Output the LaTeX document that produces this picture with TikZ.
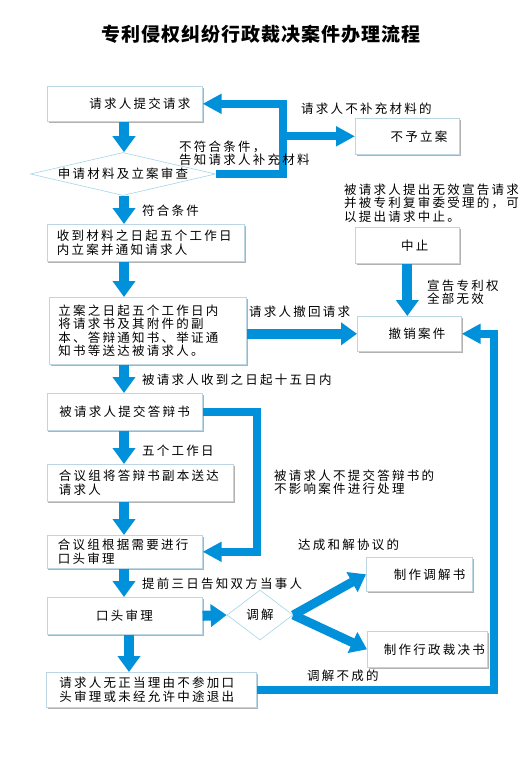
\documentclass[tikz,border=0pt]{standalone}
\usepackage{fontspec}
\setmainfont{Noto Sans CJK SC}[LetterSpace=18]
\newfontfamily\biaotiziti{Noto Sans CJK SC}[LetterSpace=5]
\usetikzlibrary{arrows.meta,shapes.geometric,shadows}
\definecolor{lanse}{RGB}{0,145,218}
\definecolor{kuangse}{RGB}{188,214,228}
\definecolor{lingse}{RGB}{165,213,235}

\begin{document}
\begin{tikzpicture}[
    x=1pt, y=-1pt,
    font=\fontsize{12.5}{13.3}\selectfont,
    kuang/.style={draw=kuangse, line width=0.6pt, fill=white, anchor=north west,
      inner ysep=0pt, align=left,
      drop shadow={shadow xshift=1.2pt, shadow yshift=-1.6pt, fill=black, opacity=0.3}},
    ling/.style={draw=lingse, line width=0.6pt, fill=white, diamond, inner sep=0pt},
    zhu/.style={anchor=west, inner sep=0pt, align=left},
    liu/.style={draw=lanse, line width=10pt, -{Triangle[width=22pt,length=16pt]}},
    huan/.style={draw=lanse, line width=8pt, -{Triangle[width=19pt,length=19pt]}},
  ]
  \path[use as bounding box, fill=white] (0,0) rectangle (532,764);
  \node[font={\biaotiziti\bfseries\fontsize{19}{19}\selectfont}] (biaoti) at (261,34) {专利侵权纠纷行政裁决案件办理流程};

  % --- 左列 ---
  \node[kuang, align=right, text width=131pt, inner xsep=12pt, minimum height=35pt] (qingqiu) at (47,86) {请求人提交请求};
  \node[ling, aspect=4.3, minimum width=185pt, minimum height=43pt] (shencha) at (123,174) {申请材料及立案审查};
  \node[kuang, text width=177.5pt, inner xsep=10pt, minimum height=37pt] (shoudao) at (46.5,224) {收到材料之日起五个工作日\\内立案并通知请求人};
  \node[kuang, text width=179pt, inner xsep=9pt, minimum height=67pt] (lian) at (49,297) {立案之日起五个工作日内\\将请求书及其附件的副\\本、答辩通知书、举证通\\知书等送达被请求人。};
  \node[kuang, align=center, text width=135.5pt, inner xsep=10pt, minimum height=37pt] (dabian) at (46.5,393) {被请求人提交答辩书};
  \node[kuang, text width=162.5pt, inner xsep=12pt, minimum height=37pt] (songda) at (46.5,464) {合议组将答辩书副本送达\\请求人};
  \node[kuang, text width=133.5pt, inner xsep=11pt, minimum height=33pt] (genju) at (46.5,535) {合议组根据需要进行\\口头审理};
  \node[kuang, align=center, text width=135.5pt, inner xsep=10pt, minimum height=37pt] (kaoting) at (46.5,597) {口头审理};
  \node[ling, aspect=1.3, minimum width=66pt, minimum height=50pt] (tiaojiezhen) at (260,615) {调解};
  \node[kuang, text width=184pt, inner xsep=13pt, minimum height=35pt] (jiuzheng) at (46,672) {请求人无正当理由不参加口\\头审理或未经允许中途退出};
  % --- 右列 ---
  \node[kuang, align=right, text width=80pt, inner xsep=12pt, minimum height=36pt] (buyu) at (355,118) {不予立案};
  \node[kuang, align=right, text width=42pt, inner xsep=31pt, minimum height=36pt] (zhongzhi) at (355,227) {中止};
  \node[kuang, align=right, text width=72pt, inner xsep=16pt, minimum height=35pt] (chexiao) at (357,316) {撤销案件};
  \node[kuang, align=right, text width=92pt, inner xsep=7pt, minimum height=34pt] (tiaojie) at (366,557) {制作调解书};
  \node[kuang, align=right, text width=115pt, inner xsep=2.5pt, minimum height=36pt] (caijue) at (367,631) {制作行政裁决书};

  % 主流程箭头
  \coordinate (zhou) at (124,0);
  \coordinate (zhou2) at (129,0);
  \draw[liu] (zhou |- qingqiu.south) -- (zhou |- shencha.north);
  \draw[liu] (zhou |- shencha.south) -- (zhou |- shoudao.north);
  \draw[liu] (zhou |- shoudao.south) -- (zhou |- lian.north);
  \draw[liu] (zhou |- lian.south) -- (zhou |- dabian.north);
  \draw[liu] (zhou |- dabian.south) -- (zhou |- songda.north);
  \draw[liu] (zhou |- songda.south) -- (zhou |- genju.north);
  \draw[liu] (zhou |- genju.south) -- (zhou |- kaoting.north);
  \draw[liu] (zhou2 |- kaoting.south) -- (zhou2 |- jiuzheng.north);
  \draw[liu] (kaoting.east) -- (tiaojiezhen.west);
  \draw[liu, line width=9pt] (tiaojiezhen.east) -- (tiaojie.west);
  \draw[liu, line width=9pt] (tiaojiezhen.east) -- (caijue.west);
  \draw[liu] (zhongzhi.south) -- (zhongzhi.south |- chexiao.north);
  \draw[liu] (lian.east |- chexiao.west) -- (chexiao.west);

  % 回转箭头
  \coordinate (guai1) at (283,0);
  \coordinate (guai2) at (257,0);
  \coordinate (guai3) at (494,0);
  \draw[huan] (shencha.east) -| (guai1 |- qingqiu.east) -- (qingqiu.east);
  \draw[huan] (guai1 |- buyu.west) -- (buyu.west);
  \draw[huan] (dabian.east) -| (guai2 |- genju.east) -- (genju.east);
  \draw[huan] (jiuzheng.east) -| (guai3 |- chexiao.east) -- (chexiao.east);

  % 说明文字
  \node[zhu] (buchong) at (301,109) {请求人不补充材料的};
  \node[zhu] (bufuhe) at (179,153.5) {不符合条件，\\告知请求人补充材料};
  \node[zhu] (wuxiao) at (344,203) {被请求人提出无效宣告请求\\并被专利复审委受理的，可\\以提出请求中止。};
  \node[zhu] (xuangao) at (427,292.5) {宣告专利权\\全部无效};
  \node[zhu] (fuhe) at (142,211) {符合条件};
  \node[zhu] (chehui) at (249,312) {请求人撤回请求};
  \node[zhu] (shiwu) at (142,380) {被请求人收到之日起十五日内};
  \node[zhu] (butijiao) at (274,482.5) {被请求人不提交答辩书的\\不影响案件进行处理};
  \node[zhu] (wuge) at (142,451) {五个工作日};
  \node[zhu] (dacheng) at (298,545) {达成和解协议的};
  \node[zhu] (tiqian) at (142,584) {提前三日告知双方当事人};
  \node[zhu] (bucheng) at (307,676) {调解不成的};
\end{tikzpicture}
\end{document}
